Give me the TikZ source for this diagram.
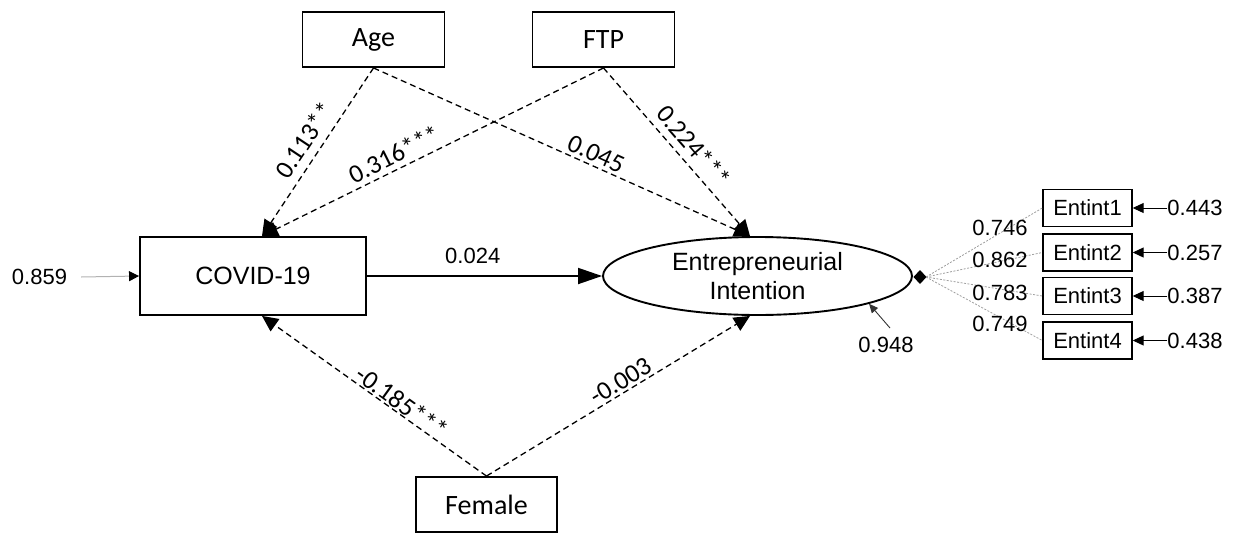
\documentclass[tikz,border=0pt]{standalone}
\usepackage{fontspec}
\setmainfont{Liberation Sans}
\newfontfamily\calfont{Carlito}
\usetikzlibrary{arrows.meta,shapes.geometric}
\begin{document}
\begin{tikzpicture}[x=1pt,y=-1pt,
  box/.style={draw, line width=1.9pt, inner sep=0pt},
  calbox/.style={box, minimum width=142pt, minimum height=55pt, font=\calfont\fontsize{28}{32}\selectfont},
  entbox/.style={draw, line width=1.4pt, inner sep=0pt, minimum width=89pt, minimum height=37pt, font=\fontsize{22}{26}\selectfont},
  num/.style={inner sep=0pt, font=\fontsize{22}{26}\selectfont},
  plabel/.style={inner sep=0pt, font=\calfont\fontsize{26}{30}\selectfont},
  dasharrow/.style={line width=1.3pt, dash pattern=on 6pt off 4pt, -{Triangle[length=16pt,width=15pt]}},
  mainarrow/.style={line width=1.8pt, -{Triangle[length=24pt,width=16pt]}},
  errarrow/.style={line width=1pt, -{Triangle[length=11pt,width=10pt]}},
  loadline/.style={line width=0.8pt, draw=gray!75, dash pattern=on 2pt off 1.5pt}
]
\useasboundingbox (0,0) rectangle (1235,533);

% nodes
\node[calbox] (age) at (373.5,39.5) {Age};
\node[calbox] (ftp) at (603.5,39.5) {FTP};
\node[calbox, minimum width=141pt] (fem) at (486.5,504.5) {Female};
\node[box, minimum width=226pt, minimum height=78pt, font=\fontsize{25}{30}\selectfont] (cov) at (253,276) {COVID-19};
\node[draw, ellipse, line width=1.9pt, minimum width=309pt, minimum height=78pt, inner sep=0pt, align=center, font=\fontsize{25}{29}\selectfont] (ei) at (757.5,276) {Entrepreneurial\\Intention};

\node[entbox] (en1) at (1087.5,208) {Entint1};
\node[entbox] (en2) at (1087.5,252.5) {Entint2};
\node[entbox] (en3) at (1087.5,296) {Entint3};
\node[entbox] (en4) at (1087.5,340.5) {Entint4};

% diamond (loading origin)
\fill (913.5,277) -- (920,270) -- (926.5,277) -- (920,284) -- cycle;
\coordinate (dia) at (926,277);

% error labels
\node[num] (e859) at (39.5,277) {0.859};
\node[num] (e948) at (886,345) {0.948};
\node[num] (r1) at (1195,208) {0.443};
\node[num] (r2) at (1195,252.5) {0.257};
\node[num] (r3) at (1195,296) {0.387};
\node[num] (r4) at (1195,340.5) {0.438};
\coordinate (c948) at (890,328);

% structural paths
\draw[dasharrow] (age.south) -- ([xshift=9pt]cov.north);
\draw[dasharrow] (ftp.south) -- ([xshift=9pt]cov.north);
\draw[dasharrow] (age.south) -- ([xshift=-7.5pt]ei.north);
\draw[dasharrow] (ftp.south) -- ([xshift=-7.5pt]ei.north);
\draw[dasharrow] (fem.north) -- ([xshift=9pt]cov.south);
\draw[dasharrow] (fem.north) -- ([xshift=-7.5pt]ei.south);
\draw[mainarrow] (cov.east) -- node[num, pos=0.45, yshift=20pt] {0.024} (ei.west);

% path labels
\node[plabel, rotate=56.4] at (304,140) {0.113**};
\node[plabel, rotate=26.5] at (394,154) {0.316***};
\node[plabel, rotate=-24.4] at (596,154) {0.045};
\node[plabel, rotate=-49.2] at (694,146) {0.224***};
\node[plabel, rotate=-35.8] at (402,402) {-0.185***};
\node[plabel, rotate=31.6] at (621,381) {-0.003};

% error arrows
\draw[line width=1pt, draw=gray!60, -{Triangle[length=10pt,width=10pt,color=black]}] ([xshift=14pt]e859.east) -- (cov.west);
\draw[line width=0.9pt, draw=black!80, -{Triangle[length=9pt,width=8pt]}] (c948) -- (ei.-14.7);
\draw[errarrow] (r1.west) -- (en1.east);
\draw[errarrow] (r2.west) -- (en2.east);
\draw[errarrow] (r3.west) -- (en3.east);
\draw[errarrow] (r4.west) -- (en4.east);

% loadings
\draw[loadline] (dia) -- (en1.west);
\draw[loadline] (dia) -- (en2.west);
\draw[loadline] (dia) -- (en3.west);
\draw[loadline] (dia) -- (en4.west);
\node[num] at (1000,228) {0.746};
\node[num] at (1000,260) {0.862};
\node[num] at (1000,293) {0.783};
\node[num] at (1000,324) {0.749};
\end{tikzpicture}
\end{document}
